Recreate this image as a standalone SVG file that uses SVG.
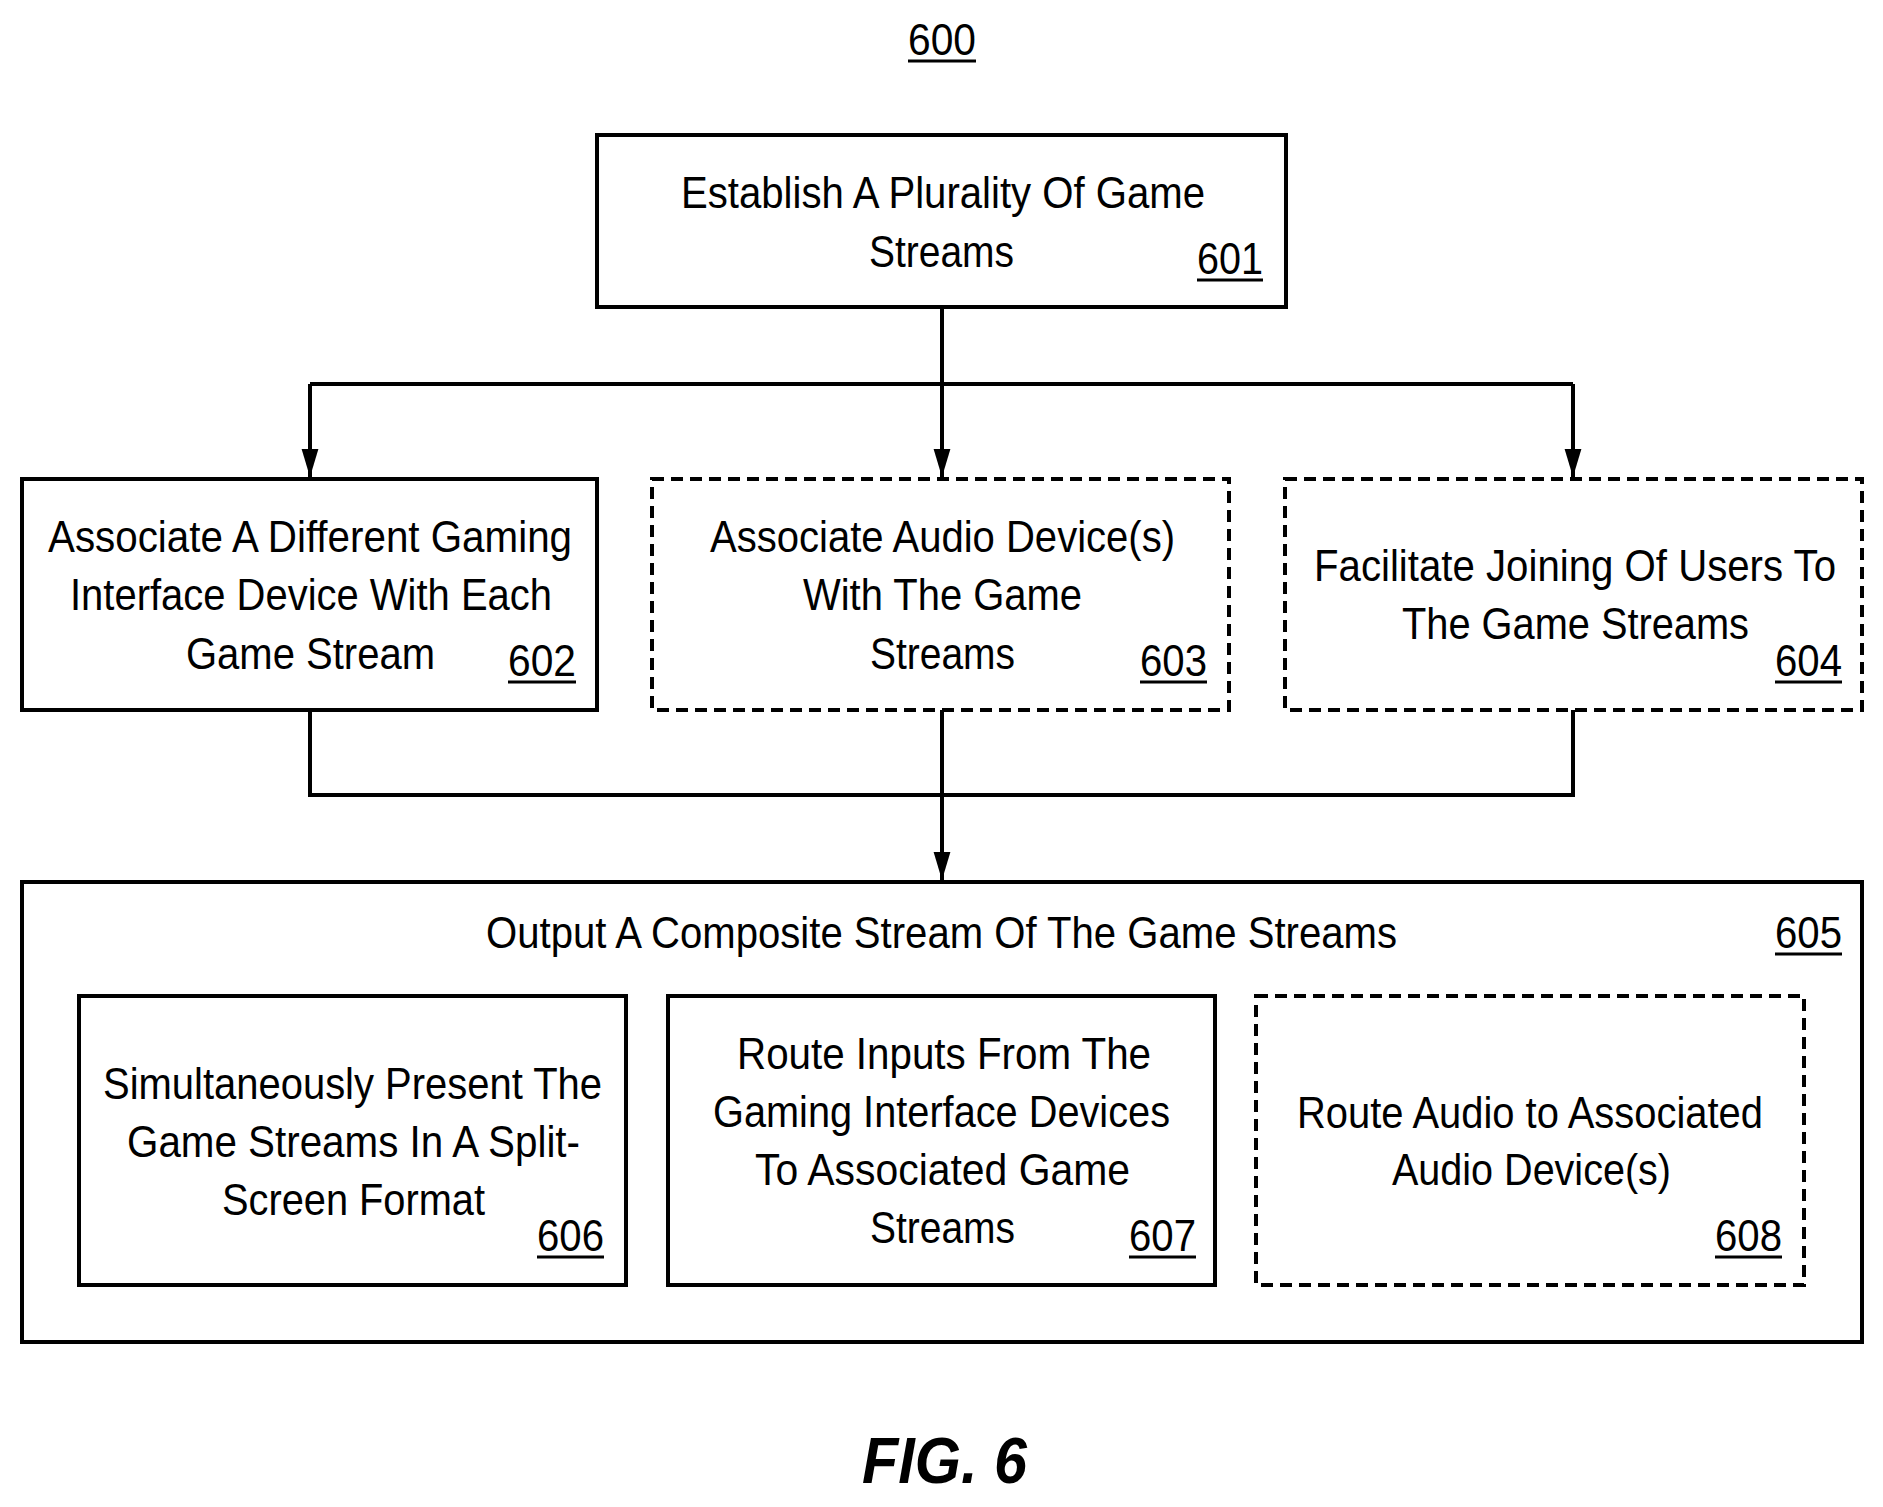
<svg xmlns="http://www.w3.org/2000/svg" width="1883" height="1507" viewBox="0 0 1883 1507">
<style>
text{font-family:"Liberation Sans",Arial,sans-serif;font-size:44px;fill:#000}
.b{fill:#fff;stroke:#000;stroke-width:4}
.d{stroke-dasharray:12 7}
.u{stroke:#000;stroke-width:3}
.c{fill:none;stroke:#000;stroke-width:4}
</style>
<defs><marker id="a" markerWidth="8" markerHeight="10" refX="7" refY="5" orient="auto" markerUnits="userSpaceOnUse" viewBox="0 0 8 10"><path d="M0,0 L8,5 L0,10 z"/></marker>
<marker id="ar" viewBox="0 0 10 10" refX="10" refY="5" markerWidth="28" markerHeight="28" markerUnits="userSpaceOnUse" orient="auto"><path d="M0,2 L10,5 L0,8 z" fill="#000"/></marker></defs>
<text x="908" y="55" textLength="68" lengthAdjust="spacingAndGlyphs">600</text><line class="u" x1="908" y1="61" x2="976" y2="61"/>
<g id="n601"><rect class="b" x="597" y="135" width="689" height="172"/>
<text x="681" y="208" textLength="524" lengthAdjust="spacingAndGlyphs">Establish A Plurality Of Game</text>
<text x="869" y="267" textLength="145" lengthAdjust="spacingAndGlyphs">Streams</text>
<text x="1197" y="274" textLength="66" lengthAdjust="spacingAndGlyphs">601</text><line class="u" x1="1197" y1="280" x2="1263" y2="280"/></g>
<g id="n602"><rect class="b" x="22" y="479" width="575" height="231"/>
<text x="48" y="552" textLength="524" lengthAdjust="spacingAndGlyphs">Associate A Different Gaming</text>
<text x="70" y="610" textLength="482" lengthAdjust="spacingAndGlyphs">Interface Device With Each</text>
<text x="186" y="669" textLength="249" lengthAdjust="spacingAndGlyphs">Game Stream</text>
<text x="508" y="676" textLength="68" lengthAdjust="spacingAndGlyphs">602</text><line class="u" x1="508" y1="682" x2="576" y2="682"/></g>
<g id="n603"><rect class="b d" x="652" y="479" width="577" height="231"/>
<text x="710" y="552" textLength="465" lengthAdjust="spacingAndGlyphs">Associate Audio Device(s)</text>
<text x="803" y="610" textLength="279" lengthAdjust="spacingAndGlyphs">With The Game</text>
<text x="870" y="669" textLength="145" lengthAdjust="spacingAndGlyphs">Streams</text>
<text x="1140" y="676" textLength="67" lengthAdjust="spacingAndGlyphs">603</text><line class="u" x1="1140" y1="682" x2="1207" y2="682"/></g>
<g id="n604"><rect class="b d" x="1285" y="479" width="577" height="231"/>
<text x="1314" y="581" textLength="522" lengthAdjust="spacingAndGlyphs">Facilitate Joining Of Users To</text>
<text x="1402" y="639" textLength="347" lengthAdjust="spacingAndGlyphs">The Game Streams</text>
<text x="1775" y="676" textLength="67" lengthAdjust="spacingAndGlyphs">604</text><line class="u" x1="1775" y1="682" x2="1842" y2="682"/></g>
<g id="n605"><rect class="b" x="22" y="882" width="1840" height="460"/>
<text x="486" y="948" textLength="911" lengthAdjust="spacingAndGlyphs">Output A Composite Stream Of The Game Streams</text>
<text x="1775" y="948" textLength="67" lengthAdjust="spacingAndGlyphs">605</text><line class="u" x1="1775" y1="954" x2="1842" y2="954"/></g>
<g id="n606"><rect class="b" x="79" y="996" width="547" height="289"/>
<text x="103" y="1099" textLength="499" lengthAdjust="spacingAndGlyphs">Simultaneously Present The</text>
<text x="127" y="1157" textLength="453" lengthAdjust="spacingAndGlyphs">Game Streams In A Split-</text>
<text x="222" y="1215" textLength="263" lengthAdjust="spacingAndGlyphs">Screen Format</text>
<text x="537" y="1251" textLength="67" lengthAdjust="spacingAndGlyphs">606</text><line class="u" x1="537" y1="1257" x2="604" y2="1257"/></g>
<g id="n607"><rect class="b" x="668" y="996" width="547" height="289"/>
<text x="737" y="1069" textLength="414" lengthAdjust="spacingAndGlyphs">Route Inputs From The</text>
<text x="713" y="1127" textLength="457" lengthAdjust="spacingAndGlyphs">Gaming Interface Devices</text>
<text x="755" y="1185" textLength="375" lengthAdjust="spacingAndGlyphs">To Associated Game</text>
<text x="870" y="1243" textLength="145" lengthAdjust="spacingAndGlyphs">Streams</text>
<text x="1129" y="1251" textLength="67" lengthAdjust="spacingAndGlyphs">607</text><line class="u" x1="1129" y1="1257" x2="1196" y2="1257"/></g>
<g id="n608"><rect class="b d" x="1256" y="996" width="548" height="289"/>
<text x="1297" y="1128" textLength="466" lengthAdjust="spacingAndGlyphs">Route Audio to Associated</text>
<text x="1392" y="1185" textLength="279" lengthAdjust="spacingAndGlyphs">Audio Device(s)</text>
<text x="1715" y="1251" textLength="67" lengthAdjust="spacingAndGlyphs">608</text><line class="u" x1="1715" y1="1257" x2="1782" y2="1257"/></g>
<g id="connectors">
<path class="c" d="M942,307 V384 M310,384 H1573"/>
<path class="c" d="M310,384 V477" marker-end="url(#ar)"/>
<path class="c" d="M942,384 V477" marker-end="url(#ar)"/>
<path class="c" d="M1573,384 V477" marker-end="url(#ar)"/>
<path class="c" d="M310,710 V795 H1573 V710 M942,710 V795"/>
<path class="c" d="M942,795 V880" marker-end="url(#ar)"/>
</g>
<text x="862" y="1483" style="font-size:64px;font-weight:bold;font-style:italic" textLength="165" lengthAdjust="spacingAndGlyphs">FIG. 6</text>
</svg>
